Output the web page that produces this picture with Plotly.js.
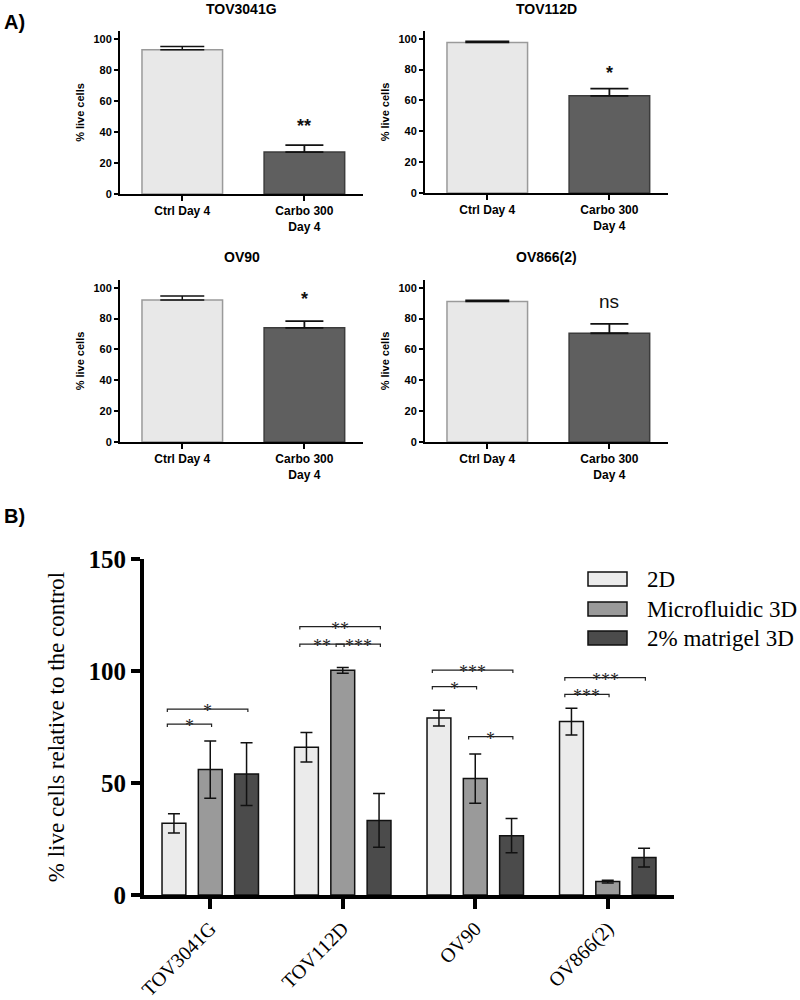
<!DOCTYPE html>
<html><head><meta charset="utf-8">
<script src="https://cdn.plot.ly/plotly-3.0.1.min.js"></script>
<style>html,body{margin:0;padding:0;background:#fff}#chart{width:800px;height:1000px}</style>
</head><body><div id="chart"></div>
<script>
// ---------- Panel A data ----------
const panelNames = ["TOV3041G", "TOV112D", "OV90", "OV866(2)"];
const conditionLabels = ["Ctrl Day 4", "Carbo 300<br>Day 4"];
const ctrlValues = [93, 97.5, 92, 91];
const ctrlErrors = [2, 0.8, 2.7, 0.8];
const carboValues = [27, 63, 74, 70.5];
const carboErrors = [4.5, 4.7, 4.4, 6];
const panelSignif = ["**", "*", "*", "ns"];
const panelSignifY = [44, 78, 93, 91];

// ---------- Panel B data ----------
const cellLines = ["TOV3041G", "TOV112D", "OV90", "OV866(2)"];
const seriesNames = ["2D", "Microfluidic 3D", "2% matrigel 3D"];
const values2D = [32, 66, 79, 77.4];
const err2D = [4.3, 6.6, 3.5, 6];
const valuesMicro = [56, 100.3, 52, 6];
const errMicro = [12.8, 1.3, 11, 0.6];
const valuesMatrigel = [54, 33.3, 26.5, 16.7];
const errMatrigel = [14, 12, 7.6, 4.2];
// significance brackets
const bracketCat = [0, 0, 1, 1, 1, 2, 2, 2, 3, 3];
const bracketFrom = [0, 0, 0, 0, 1, 0, 0, 1, 0, 0];
const bracketTo = [2, 1, 2, 1, 2, 2, 1, 2, 2, 1];
const bracketY = [83, 76.3, 119.8, 112, 112, 100.4, 93, 70.7, 97, 89.6];
const bracketLabel = ["*", "*", "**", "**", "***", "***", "*", "*", "***", "***"];

// ---------- styles ----------
const SANS = "Liberation Sans, Arial, sans-serif";
const SERIF = "Liberation Serif, Times New Roman, serif";
const ctrlFill = "#e8e8e8", ctrlLine = "#9a9a9a";
const carboFill = "#5f5f5f", carboLine = "#3c3c3c";
const seriesFill = ["#ebebeb", "#9a9a9a", "#4b4b4b"];

const W = 800, H = 1000;
const px = v => v / W, py = v => 1 - v / H;

// panel positions (pixels): [left, right, bottom, top]
const panelBoxes = [
  [120, 363, 194, 31],
  [425, 668, 193, 31],
  [120, 363, 442, 280],
  [425, 668, 442, 280]
];
const panelTitleY = [9, 9, 257, 257];

const data = [];
const layout = {
  width: W, height: H,
  margin: {l: 0, r: 0, t: 0, b: 0},
  paper_bgcolor: "#fff", plot_bgcolor: "rgba(0,0,0,0)",
  showlegend: false,
  barmode: "overlay",
  annotations: [], shapes: []
};

panelNames.forEach((name, i) => {
  const k = i + 1;
  const xa = "x" + k, ya = "y" + k;
  data.push({
    type: "bar", x: [conditionLabels[0]], y: [ctrlValues[i]], xaxis: xa, yaxis: ya,
    width: 0.66,
    marker: {color: ctrlFill, line: {color: ctrlLine, width: 1.5}},
    error_y: {type: "data", symmetric: false, array: [ctrlErrors[i]], arrayminus: [0], color: "#111", thickness: 1.5, width: 22},
    hoverinfo: "skip"
  });
  data.push({
    type: "bar", x: [conditionLabels[1]], y: [carboValues[i]], xaxis: xa, yaxis: ya,
    width: 0.66,
    marker: {color: carboFill, line: {color: carboLine, width: 1.5}},
    error_y: {type: "data", symmetric: false, array: [carboErrors[i]], arrayminus: [0], color: "#111", thickness: 1.8, width: 19},
    hoverinfo: "skip"
  });
  const b = panelBoxes[i];
  layout["xaxis" + k] = {
    domain: [px(b[0]), px(b[1])], anchor: ya, type: "category",
    categoryorder: "array", categoryarray: conditionLabels,
    range: [-0.51, 1.48], showgrid: false, zeroline: false,
    showline: true, linecolor: "#000", linewidth: 2,
    ticks: "outside", ticklen: 5, tickwidth: 2, tickcolor: "#000",
    tickfont: {family: SANS, size: 12, color: "#000", weight: "bold"}
  };
  layout["yaxis" + k] = {
    domain: [py(b[2]), py(b[3])], anchor: xa,
    range: [0, 105], tickvals: [0, 20, 40, 60, 80, 100],
    showgrid: false, zeroline: false,
    showline: true, linecolor: "#000", linewidth: 2,
    ticks: "outside", ticklen: 4, tickwidth: 2, tickcolor: "#000",
    tickfont: {family: SANS, size: 11, color: "#000", weight: "bold"},
    title: {text: "% live cells", standoff: 7, font: {family: SANS, size: 11, color: "#000", weight: "bold"}}
  };
  layout.annotations.push({
    text: name, xref: xa + " domain", x: 0.5, yref: "paper", y: py(panelTitleY[i]),
    xanchor: "center", yanchor: "middle", showarrow: false,
    font: {family: SANS, size: 14, color: "#000", weight: "bold"}
  });
  const isNs = panelSignif[i] === "ns";
  layout.annotations.push({
    text: panelSignif[i], xref: xa, x: conditionLabels[1], yref: ya, y: panelSignifY[i],
    xanchor: "center", yanchor: "middle", showarrow: false,
    font: {family: SANS, size: isNs ? 19 : 18, color: "#111", weight: isNs ? "normal" : "bold"}
  });
});

// ---------- Panel B ----------
const slot = 0.274, barW = 0.18;
const bVals = [values2D, valuesMicro, valuesMatrigel];
const bErrs = [err2D, errMicro, errMatrigel];
const catIdx = cellLines.map((c, i) => i);
seriesNames.forEach((s, j) => {
  data.push({
    type: "bar", name: s, x: catIdx, y: bVals[j], xaxis: "x5", yaxis: "y5",
    width: barW, offset: (j - 1) * slot - barW / 2,
    marker: {color: seriesFill[j], line: {color: "#111", width: 1.5}},
    error_y: {type: "data", array: bErrs[j], color: "#111", thickness: 1.5, width: 6},
    hoverinfo: "skip"
  });
});
layout.xaxis5 = {
  domain: [px(144), px(674)], anchor: "y5",
  range: [-0.5, 3.5], tickvals: catIdx, ticktext: cellLines, tickangle: -45,
  showgrid: false, zeroline: false,
  showline: true, linecolor: "#000", linewidth: 4,
  ticks: "outside", ticklen: 10, tickwidth: 4, tickcolor: "#000",
  ticklabelstandoff: 0,
  tickfont: {family: SERIF, size: 20, color: "#000"}
};
layout.yaxis5 = {
  domain: [py(895), py(559)], anchor: "x5",
  range: [0, 150], tickvals: [0, 50, 100, 150],
  showgrid: false, zeroline: false,
  showline: true, linecolor: "#000", linewidth: 4,
  ticks: "outside", ticklen: 9, tickwidth: 4, tickcolor: "#000",
  tickfont: {family: SERIF, size: 25, color: "#000", weight: "bold"},
  title: {text: "% live cells relative to the control", standoff: 18, font: {family: SERIF, size: 23, color: "#000"}}
};

// brackets
bracketCat.forEach((c, i) => {
  const x0 = c + (bracketFrom[i] - 1) * slot - 0.05;
  const x1 = c + (bracketTo[i] - 1) * slot + 0.01;
  const y = bracketY[i], d = 1.3;
  layout.shapes.push({
    type: "path", xref: "x5", yref: "y5",
    path: `M${x0},${y - d} L${x0},${y} L${x1},${y} L${x1},${y - d}`,
    line: {color: "#222", width: 1.2}
  });
  layout.annotations.push({
    text: bracketLabel[i], xref: "x5", yref: "y5", x: (x0 + x1) / 2, y: y,
    xanchor: "center", yanchor: "middle", yshift: -2, showarrow: false,
    font: {family: SERIF, size: 18, color: "#222"}
  });
});

// legend (drawn manually)
const legendRowY = [579, 609, 638];
seriesNames.forEach((s, j) => {
  layout.shapes.push({
    type: "rect", xref: "paper", yref: "paper",
    x0: px(588), x1: px(627), y0: py(legendRowY[j] + 7), y1: py(legendRowY[j] - 7),
    fillcolor: seriesFill[j], line: {color: "#111", width: 1.5}
  });
  layout.annotations.push({
    text: s, xref: "paper", yref: "paper", x: px(645), y: py(legendRowY[j]),
    xanchor: "left", yanchor: "middle", showarrow: false,
    font: {family: SERIF, size: 23, color: "#000"}
  });
});

// panel letters
layout.annotations.push({text: "A)", xref: "paper", yref: "paper", x: px(2), y: py(22),
  xanchor: "left", yanchor: "middle", showarrow: false,
  font: {family: SANS, size: 20, color: "#000", weight: "bold"}});
layout.annotations.push({text: "B)", xref: "paper", yref: "paper", x: px(2), y: py(516),
  xanchor: "left", yanchor: "middle", showarrow: false,
  font: {family: SANS, size: 20, color: "#000", weight: "bold"}});

Plotly.newPlot("chart", data, layout, {staticPlot: true});
</script>
</body></html>
